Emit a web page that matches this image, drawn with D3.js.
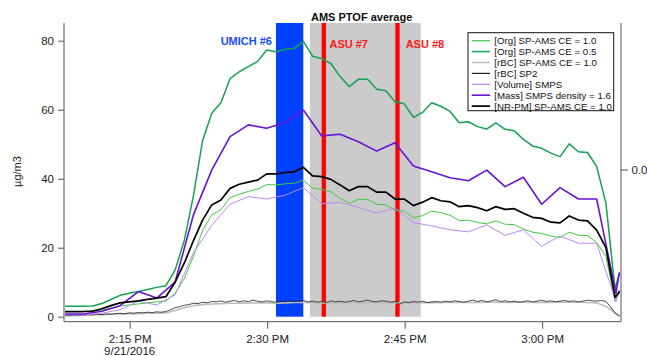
<!DOCTYPE html>
<html>
<head>
<meta charset="utf-8">
<script src="https://cdn.jsdelivr.net/npm/d3@7"></script>
<style>
  body { margin: 0; background: #fff; }
  text { font-family: "Liberation Sans", Arial, sans-serif; }
</style>
</head>
<body>
<script>
// sample grid: minutes after 2:00 PM on 9/21/2016
const amsStart = 7.95, amsStep = 1, amsLast = 68.45;
const smpsStart = 7.95, smpsStep = 2, smpsTail = [68.05, 68.41];
const sp2Start = 7.95, sp2Step = 0.5;

const orgCE10 = [1.5,1.5,1.5,1.6,1.9,2.5,3.1,3.4,3.7,4.0,4.3,4.5,
  6.8,11,17.5,25,29.5,31,34.5,35.5,36.3,37,
  38.3,38.2,38.5,38.7,39.6,37.3,36.9,36.2,34.3,32.9,34.0,34.0,32.6,32.4,30.9,30.6,28.7,29.3,
  30.6,30.2,29.4,27.8,28.0,27.3,26.9,27.8,26.8,26.7,25.4,24.5,
  24.1,23.4,22.9,24.5,23.6,23.5,21.5,17.5,4.5,7];
const orgCE05 = [3.0,3.0,3.0,3.1,3.8,5.0,6.2,6.8,7.3,7.9,8.5,9.0,
  13.5,22,35,51,59,62,69,71,72.5,74,
  77.3,76.8,77.5,77.8,79.8,75.5,74.8,73.4,69.6,66.7,
  68.8,68.8,65.9,65.5,62.3,61.7,57.8,59.2,62,61,
  59.5,56.2,56.5,55.1,54.4,56.2,54.3,53.9,51.4,49.5,
  48.8,47.4,46.4,50.1,47.8,47.6,43.5,33,8,13];
const rbcAMS = [0.3,0.3,0.4,0.5,0.6,0.7,0.8,0.9,0.9,1.0,1.0,1.1,
  1.8,2.6,3.2,3.5,3.7,3.8,3.9,3.9,4.0,4.0,
  4.0,3.9,4.0,4.1,4.1,4.0,4.0,4.0,4.0,4.1,4.0,4.0,4.1,4.0,4.0,4.0,4.0,4.1,
  4.0,4.1,4.1,4.2,4.1,4.1,4.2,4.2,4.1,4.2,4.2,4.1,
  4.2,4.1,4.2,4.2,4.2,4.1,4.0,3.0,1.2,0.3];
const rbcSP2 = [0.4,0.3,0.5,0.4,0.5,0.6,0.5,0.7,0.6,0.8,
  0.7,0.9,1.0,0.8,1.1,1.0,1.2,1.1,1.3,1.2,
  1.4,1.3,1.5,2.0,2.6,2.9,3.3,3.5,3.9,3.8,
  4.2,4.0,4.4,4.3,4.6,4.2,4.5,4.7,4.3,4.6,
  4.4,4.8,4.5,4.3,4.6,4.4,4.2,4.5,4.3,4.6,
  4.4,4.5,4.7,4.3,4.5,4.2,4.4,4.1,4.6,4.3,
  4.5,4.2,4.4,4.7,4.3,4.5,4.8,4.4,4.3,4.6,
  4.5,4.2,4.4,3.6,4.3,4.1,4.4,4.2,4.5,4.1,
  4.3,4.4,4.2,4.5,4.3,4.6,4.4,4.2,4.5,4.8,
  4.4,4.7,4.3,4.6,4.9,4.4,4.6,4.3,4.5,4.2,
  4.4,4.6,4.3,4.5,4.8,4.4,4.6,4.3,4.5,4.7,
  4.4,4.6,4.3,4.5,4.8,4.6,4.5,4.7,4.4,2.9,
  1.0,0.1];
const volSMPS = [0.5,0.5,1.0,2.0,4.5,3.4,6.3,18.5,26.5,32.6,34.8,34.1,35.2,37.4,32.8,
  33.1,31.7,30.0,31.5,27.3,26.3,25.2,24.6,26.6,23.6,25.2,20.4,23.4,21.3,21.3,4.3,7.9];
const massSMPS = [0.8,0.8,1.6,3.2,7.3,5.4,10,29.5,42.5,52.2,55.6,54.6,56.3,59.9,52.4,
  52.9,50.7,48,50.4,43.7,42,40.3,39.4,42.5,37.7,40.4,32.6,37.4,34.1,34.1,6.8,12.6];
const nrPM = [1.5,1.5,1.5,1.6,2.3,3.2,4.0,4.3,4.6,5.0,5.4,5.8,
  10,15.5,22,28,32.4,33.8,37.2,38.4,39,39.6,
  41.4,41.4,41.8,42,43.3,40.8,40.6,39.8,38.2,36.5,37.7,37.7,36.1,36.1,34.1,34.1,32.2,33.2,
  34.5,33.6,33.3,31.9,32.2,31.6,30.7,31.9,31.1,31.3,30,28.8,
  28.5,27.4,27.2,29.2,28,27.8,25.1,20,5.6,7.4];

const seriesNames = ["[Org] SP-AMS CE = 1.0", "[Org] SP-AMS CE = 0.5", "[rBC] SP-AMS CE = 1.0",
  "[rBC] SP2", "[Volume] SMPS", "[Mass] SMPS density = 1.6", "[NR-PM] SP-AMS CE = 1.0"];

// sampling periods (minutes after 2:00 PM)
const umichPeriod = [30.96, 33.94];
const ptofPeriod = [34.67, 46.75];
const asuPeriods = [[35.94, 36.41], [43.98, 44.45]];
const asuLabels = ["ASU #7", "ASU #8"];
const yTicks = [0, 20, 40, 60, 80];

const W = 647, H = 356;
const base = new Date(2016, 8, 21, 14, 0, 0);
const toDate = m => new Date(base.getTime() + m * 60000);

const amsTimes = orgCE05.map((d, i) => i < orgCE05.length - 1 ? amsStart + i * amsStep : amsLast);
const smpsTimes = massSMPS.map((d, i) => i < massSMPS.length - 2 ? smpsStart + i * smpsStep : smpsTail[i - (massSMPS.length - 2)]);
const sp2Times = rbcSP2.map((d, i) => sp2Start + i * sp2Step);

const svg = d3.select("body").append("svg")
  .attr("width", W).attr("height", H);

const plotL = 64, plotR = 621, plotT = 23, axisY = 321.7;
const x = d3.scaleTime().domain([toDate(7.833), toDate(68.6)]).range([plotL, plotR]);
const y = d3.scaleLinear().domain([0, 85.13]).range([316.7, plotT]);

// shaded periods
svg.append("rect")
  .attr("x", x(toDate(ptofPeriod[0]))).attr("y", y(85.13))
  .attr("width", x(toDate(ptofPeriod[1])) - x(toDate(ptofPeriod[0])))
  .attr("height", y(0) - y(85.13)).attr("fill", "#cbcbcb");
svg.append("rect")
  .attr("x", x(toDate(umichPeriod[0]))).attr("y", y(85.13))
  .attr("width", x(toDate(umichPeriod[1])) - x(toDate(umichPeriod[0])))
  .attr("height", y(0) - y(85.13)).attr("fill", "#0040ff");
svg.selectAll("rect.asu").data(asuPeriods).enter().append("rect")
  .attr("class", "asu")
  .attr("x", d => x(toDate(d[0]))).attr("y", y(85.13))
  .attr("width", d => x(toDate(d[1])) - x(toDate(d[0])))
  .attr("height", y(0) - y(85.13)).attr("fill", "#ff0000");

// lines
const line = d3.line().x(d => x(toDate(d[0]))).y(d => y(d[1]));
const zip = (t, v) => v.map((d, i) => [t[i], d]);
const series = [
  { t: amsTimes, v: orgCE10, color: "#3ccc3c", w: 1 },
  { t: amsTimes, v: orgCE05, color: "#15a052", w: 1.5 },
  { t: amsTimes, v: rbcAMS, color: "#bdbdbd", w: 1.6 },
  { t: sp2Times, v: rbcSP2, color: "#222", w: 0.8 },
  { t: smpsTimes, v: volSMPS, color: "#b98af0", w: 1 },
  { t: smpsTimes, v: massSMPS, color: "#6a12d8", w: 1.6 },
  { t: amsTimes, v: nrPM, color: "#000", w: 1.7 }
];
svg.selectAll("path.series").data(series).enter().append("path")
  .attr("class", "series")
  .attr("d", d => line(zip(d.t, d.v)))
  .attr("fill", "none")
  .attr("stroke", d => d.color)
  .attr("stroke-width", d => d.w)
  .attr("stroke-linejoin", "round");

// annotations
svg.append("text").attr("x", x(toDate(umichPeriod[0])) - 4).attr("y", 45)
  .attr("text-anchor", "end").attr("font-size", 11).attr("font-weight", "bold")
  .attr("fill", "#1a4cff").text("UMICH #6");
svg.append("text").attr("x", x(toDate(ptofPeriod[0])) + 1).attr("y", 20.7)
  .attr("font-size", 11).attr("font-weight", "bold").attr("fill", "#111")
  .text("AMS PTOF average");
svg.selectAll("text.asu").data(asuPeriods).enter().append("text")
  .attr("class", "asu")
  .attr("x", (d, i) => x(toDate(d[1])) + (i === 0 ? 3.5 : 6))
  .attr("y", 48)
  .attr("font-size", 11).attr("font-weight", "bold").attr("fill", "#ff1a1a")
  .text((d, i) => asuLabels[i]);

// axes
const axisColor = "#555";
svg.append("line").attr("x1", plotL).attr("x2", plotL).attr("y1", plotT).attr("y2", axisY).attr("stroke", axisColor);
svg.append("line").attr("x1", plotR).attr("x2", plotR).attr("y1", plotT).attr("y2", axisY).attr("stroke", axisColor);
svg.append("line").attr("x1", plotL).attr("x2", plotR).attr("y1", axisY).attr("y2", axisY).attr("stroke", axisColor);

const yAxis = svg.append("g").attr("transform", `translate(${plotL},0)`)
  .call(d3.axisLeft(y).tickValues(yTicks).tickSize(6).tickPadding(4));
yAxis.select(".domain").remove();
yAxis.selectAll("line").attr("stroke", axisColor);
yAxis.selectAll("text").attr("font-size", 11.5).attr("fill", "#222").attr("font-family", null);

const xAxis = svg.append("g").attr("transform", `translate(0,${axisY})`)
  .call(d3.axisBottom(x).ticks(d3.timeMinute.every(15)).tickFormat(d3.timeFormat("%-I:%M %p"))
    .tickSize(7).tickPadding(6));
xAxis.select(".domain").remove();
xAxis.selectAll("line").attr("stroke", axisColor);
xAxis.selectAll("text").attr("font-size", 11.5).attr("fill", "#222").attr("font-family", null);
svg.append("text").attr("x", x(toDate(15))).attr("y", 355.3).attr("text-anchor", "middle")
  .attr("font-size", 11.5).attr("fill", "#222").text("9/21/2016");

// right axis
svg.append("line").attr("x1", plotR).attr("x2", plotR + 7).attr("y1", 170).attr("y2", 170).attr("stroke", axisColor);
svg.append("text").attr("x", plotR + 10.5).attr("y", 174).attr("font-size", 11.5).attr("fill", "#222").text("0.00");

// y label
svg.append("text").attr("transform", "translate(21,171.5) rotate(-90)")
  .attr("text-anchor", "middle").attr("font-size", 11).attr("fill", "#222").text("µg/m3");

// legend
const lg = svg.append("g");
lg.append("rect").attr("x", 468).attr("y", 32.7).attr("width", 145.7).attr("height", 78)
  .attr("fill", "#fff").attr("stroke", "#111").attr("stroke-width", 1);
const rows = lg.selectAll("g.row").data(series).enter().append("g")
  .attr("class", "row")
  .attr("transform", (d, i) => `translate(0,${40.7 + i * 10.9})`);
rows.append("line").attr("x1", 471.7).attr("x2", 490).attr("y1", 0).attr("y2", 0)
  .attr("stroke", d => d.color).attr("stroke-width", d => Math.max(d.w, 1.2));
rows.append("text").attr("x", 494.3).attr("y", 3.5).attr("font-size", 9.7).attr("fill", "#111")
  .text((d, i) => seriesNames[i]);
</script>
</body>
</html>
